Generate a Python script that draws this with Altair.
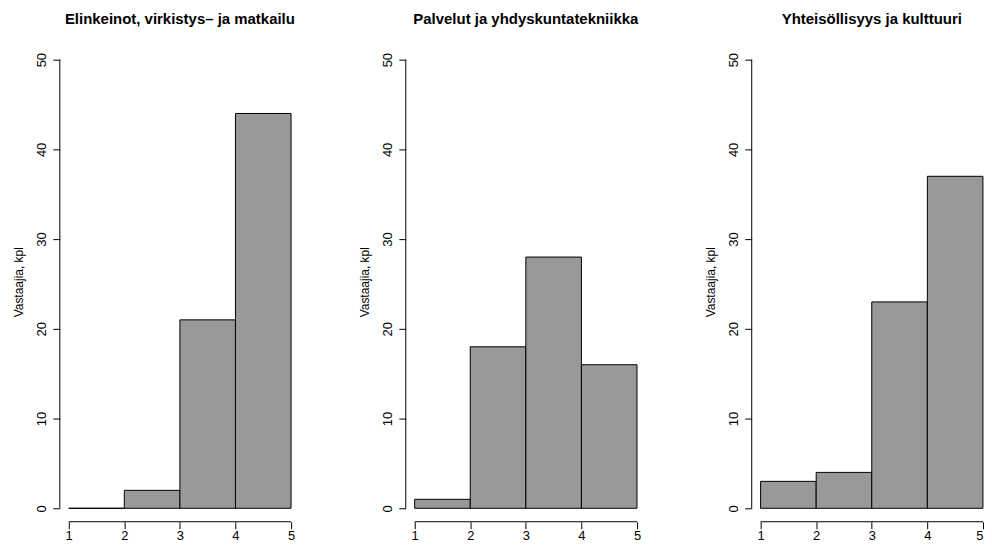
import altair as alt
import pandas as pd

bin_lo = [1, 2, 3, 4]
bin_hi = [2, 3, 4, 5]
titles = [
    "Elinkeinot, virkistys\u2013 ja matkailu",
    "Palvelut ja yhdyskuntatekniikka",
    "Yhteisöllisyys ja kulttuuri",
]
counts_1 = [0, 2, 21, 44]
counts_2 = [1, 18, 28, 16]
counts_3 = [3, 4, 23, 37]
x_ticks = [1, 2, 3, 4, 5]
y_ticks = [0, 10, 20, 30, 40, 50]
y_title = "Vastaajia, kpl"

FONT = "Liberation Sans"
PX_X = 55.75   # pixels per x unit
PX_Y = 9.0     # pixels per y unit
Y_DOM = [-1.5, 52]
H = (Y_DOM[1] - Y_DOM[0]) * PX_Y


def panel(title, counts, x_dom, dx=0):
    df = pd.DataFrame({"lo": bin_lo, "hi": bin_hi, "n": counts})
    xs = alt.Scale(domain=x_dom, nice=False, zero=False)
    ys = alt.Scale(domain=Y_DOM, nice=False, zero=False)
    bars = alt.Chart(df).mark_rect(fill="#999999", stroke="black", strokeWidth=1).encode(
        x=alt.X("lo:Q", scale=xs,
                axis=alt.Axis(values=x_ticks, title=None, domain=False, grid=False,
                              tickSize=7, labelPadding=1, labelAngle=0, format="d")),
        x2="hi:Q",
        y=alt.Y("n:Q", scale=ys,
                axis=alt.Axis(values=y_ticks, title=y_title, domain=False, grid=False,
                              tickSize=7, labelAngle=270, labelAlign="center",
                              labelBaseline="bottom", labelPadding=4, titlePadding=10,
                              format="d")),
        y2=alt.datum(0),
    )
    axis_df = pd.DataFrame({"k": [0]})
    yline = alt.Chart(axis_df).mark_rule(color="black", strokeWidth=1).encode(
        x=alt.value(0), y=alt.datum(y_ticks[0]), y2=alt.datum(y_ticks[-1])
    )
    xline = alt.Chart(axis_df).mark_rule(color="black", strokeWidth=1).encode(
        y=alt.value(H), x=alt.datum(x_ticks[0]), x2=alt.datum(x_ticks[-1])
    )
    return alt.layer(bars, yline, xline).properties(
        width=(x_dom[1] - x_dom[0]) * PX_X, height=H,
        title=alt.Title(title, fontSize=15, fontWeight="bold", font=FONT, offset=15,
                        color="black", frame="group", anchor="middle", dx=dx),
    )


chart = alt.hconcat(
    panel(titles[0], counts_1, [0.84, 5.16]),
    panel(titles[1], counts_2, [0.84, 5.16]),
    panel(titles[2], counts_3, [0.84, 5.0], dx=4.5),
    spacing=59,
).properties(
    padding={"left": 5, "top": 3, "right": 0, "bottom": 0}
).configure_view(stroke=None).configure_axis(
    labelFont=FONT, labelFontSize=13, labelColor="black",
    titleFont=FONT, titleFontSize=12, titleFontWeight="normal", titleColor="black",
    tickColor="black", tickWidth=1,
)

chart.save("out.html", embed_options={"renderer": "svg", "actions": False})
